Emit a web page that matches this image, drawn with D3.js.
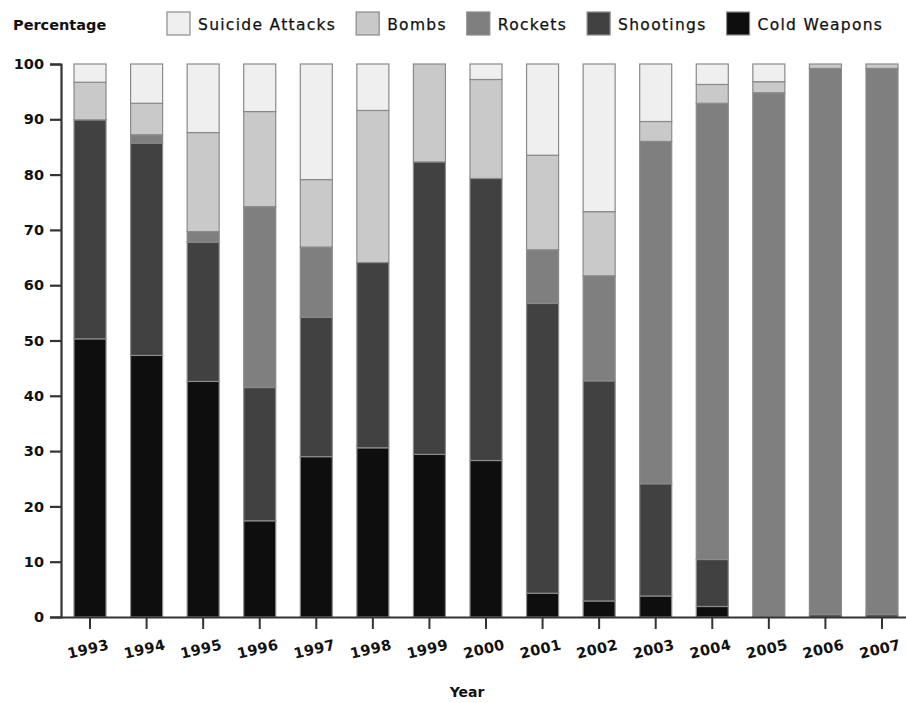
<!DOCTYPE html>
<html>
<head>
<meta charset="utf-8">
<script src="https://cdn.jsdelivr.net/npm/d3@7/dist/d3.min.js"></script>
<style>
  html, body { margin: 0; padding: 0; background: #fff; }
  svg { display: block; }
</style>
</head>
<body>
<svg id="chart" width="906" height="703"></svg>
<script>
// ---- Data ----
const years = ["1993","1994","1995","1996","1997","1998","1999","2000","2001","2002","2003","2004","2005","2006","2007"];
const coldWeapons = [50.3, 47.3, 42.6, 17.4, 29.0, 30.6, 29.4, 28.3, 4.3, 2.9, 3.8, 1.9, 0, 0.4, 0.4];
const shootings   = [39.6, 38.4, 25.2, 24.1, 25.2, 33.5, 52.9, 51.0, 52.4, 39.8, 20.3, 8.5, 0, 0, 0];
const rockets     = [0, 1.5, 1.9, 32.7, 12.7, 0, 0, 0, 9.7, 19.0, 61.9, 82.5, 94.8, 98.8, 98.8];
const bombs       = [6.8, 5.7, 17.9, 17.2, 12.2, 27.5, 17.7, 17.9, 17.1, 11.6, 3.6, 3.4, 2.0, 0.8, 0.8];
const suicide     = [3.3, 7.1, 12.4, 8.6, 20.9, 8.4, 0, 2.8, 16.5, 26.7, 10.4, 3.7, 3.2, 0, 0];
const yTicks = [0, 10, 20, 30, 40, 50, 60, 70, 80, 90, 100];

const seriesNames = ["Cold Weapons", "Shootings", "Rockets", "Bombs", "Suicide Attacks"]; // bottom -> top
const seriesValues = [coldWeapons, shootings, rockets, bombs, suicide];
const legendOrder = ["Suicide Attacks", "Bombs", "Rockets", "Shootings", "Cold Weapons"];
const colors = {
  "Suicide Attacks": "#efefef",
  "Bombs": "#c9c9c9",
  "Rockets": "#7f7f7f",
  "Shootings": "#414141",
  "Cold Weapons": "#0e0e0e"
};

(function () {
// ---- Build table ----
const table = years.map((yr, i) => {
  const row = { year: yr };
  seriesNames.forEach((s, k) => row[s] = seriesValues[k][i]);
  return row;
});
const stacked = d3.stack().keys(seriesNames)(table);

const svg = d3.select("#chart");
const mLeft = 61, mBottom = 617, mTop = 64;

const x = d3.scaleBand().domain(years).range([mLeft, 911]).paddingInner(0.434).paddingOuter(0.23);
const y = d3.scaleLinear().domain([0, 100]).range([mBottom, mTop]);

// ---- Bars ----
const layers = svg.append("g").selectAll("g").data(stacked).join("g")
  .attr("fill", d => colors[d.key]);
layers.selectAll("rect")
  .data(d => d.filter(p => p[1] - p[0] > 0))
  .join("rect")
  .attr("x", d => x(d.data.year))
  .attr("width", x.bandwidth())
  .attr("y", d => y(d[1]))
  .attr("height", d => y(d[0]) - y(d[1]))
  .attr("stroke", "#8a8a8a")
  .attr("stroke-width", 1.2);

// ---- Axes ----
const fontTick = "DejaVu Sans, sans-serif";
const yAxis = svg.append("g").attr("transform", `translate(${mLeft},0)`)
  .call(d3.axisLeft(y).tickValues(yTicks).tickSize(11).tickPadding(6));
yAxis.select(".domain").attr("stroke", "#333").attr("stroke-width", 2.2);
yAxis.selectAll(".tick line").attr("stroke", "#333").attr("stroke-width", 2.2);
yAxis.selectAll(".tick text").attr("font-family", fontTick).attr("font-weight", "bold")
  .attr("font-size", 14.5).attr("fill", "#111");

const xAxis = svg.append("g").attr("transform", `translate(0,${mBottom})`)
  .call(d3.axisBottom(x).tickSize(12).tickSizeOuter(0));
xAxis.select(".domain").attr("stroke", "#333").attr("stroke-width", 2.2);
xAxis.selectAll(".tick line").attr("stroke", "#333").attr("stroke-width", 2);
xAxis.selectAll(".tick text")
  .attr("font-family", fontTick).attr("font-weight", "bold").attr("font-size", 14.5)
  .attr("letter-spacing", 0.4).attr("fill", "#111")
  .attr("y", 0).attr("dy", "0.35em")
  .attr("text-anchor", "middle")
  .attr("transform", "translate(-2,32) rotate(-13)");

// ---- Titles ----
svg.append("text").attr("x", 13).attr("y", 30)
  .attr("font-family", fontTick).attr("font-weight", "bold").attr("font-size", 14.5).attr("fill", "#111")
  .text("Percentage");

svg.append("text").attr("x", 467).attr("y", 697).attr("text-anchor", "middle")
  .attr("font-family", fontTick).attr("font-weight", "bold").attr("font-size", 14).attr("fill", "#111")
  .text("Year");

// ---- Legend ----
let lx = 167;
legendOrder.forEach(name => {
  const g = svg.append("g");
  g.append("rect").attr("x", lx).attr("y", 12).attr("width", 23).attr("height", 23)
    .attr("fill", colors[name]).attr("stroke", "#8a8a8a").attr("stroke-width", 1.2);
  const t = g.append("text").attr("x", lx + 31).attr("y", 30)
    .attr("font-family", fontTick).attr("font-size", 15.5).attr("letter-spacing", 1.3)
    .attr("fill", "#111").attr("stroke", "#111").attr("stroke-width", 0.25).text(name);
  const w = t.node().getComputedTextLength();
  lx = lx + 31 + w + 20;
});
})();
</script>
</body>
</html>
